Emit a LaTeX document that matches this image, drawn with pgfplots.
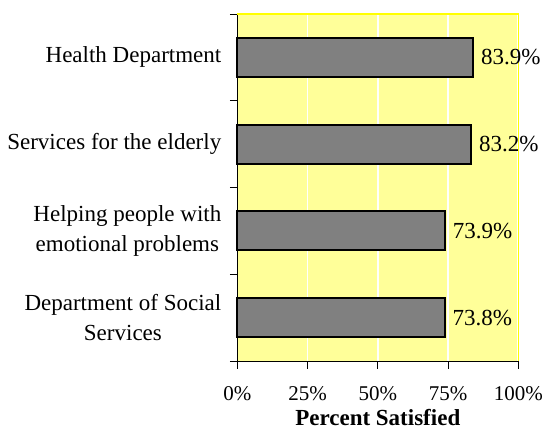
\documentclass[border=0pt]{standalone}
\usepackage{pgfplots}
\pgfplotsset{compat=1.18}
\usepackage{fontspec}
\setmainfont{Liberation Serif}
\definecolor{bgyellow}{HTML}{FFFF99}
\definecolor{bordery}{HTML}{FFFF00}
\definecolor{bargray}{HTML}{808080}
\newcommand\fs{\fontsize{23bp}{29.5bp}\selectfont}
\newcommand\fst{\fontsize{21bp}{26bp}\selectfont}
\begin{document}
\begin{tikzpicture}
\path[use as bounding box] (-237.3bp,-68bp) rectangle (306.7bp,361bp);
\begin{axis}[
 at={(0,0)}, anchor=south west,
 scale only axis, width=281bp, height=347bp,
 xbar, bar width=0.45,
 xmin=0, xmax=100, ymin=0.5, ymax=4.5,
 axis x line*=bottom, axis y line*=left,
 axis line style={black, line width=1bp},
 axis background/.style={fill=bgyellow},
 xtick={0,25,50,75,100},
 xticklabels={0\%,25\%,50\%,75\%,100\%},
 xmajorgrids,
 major grid style={white, line width=1.8bp},
 ytick={0.5,1.5,2.5,3.5,4.5},
 y tick label as interval,
 yticklabels={{Department of Social\\Services},{Helping people with\\emotional problems},{Services for the elderly},{Health Department}},
 tick align=outside, major tick length=7.5bp,
 tick style={black, line width=0.8bp},
 yticklabel style={font=\fs, align=center, xshift=-5bp},
 xticklabel style={font=\fst, yshift=-15bp},
 xlabel={Percent Satisfied},
 xlabel style={font=\fs\bfseries, yshift=-1bp},
 nodes near coords={\pgfmathprintnumber[fixed,fixed zerofill,precision=1,assume math mode=true]{\pgfplotspointmeta}\%},
 nodes near coords style={font=\fs, anchor=west, inner sep=0pt, xshift=7bp, text=black},
 point meta=x,
 clip=false,
]
\addplot[fill=bargray, draw=black, line width=2bp] coordinates {(73.8,1) (73.9,2) (83.2,3) (83.9,4)};
\draw[bordery, line width=1.5bp] (axis cs:0,4.5) -- (axis cs:100,4.5) -- (axis cs:100,0.5);
\end{axis}
\end{tikzpicture}
\end{document}
